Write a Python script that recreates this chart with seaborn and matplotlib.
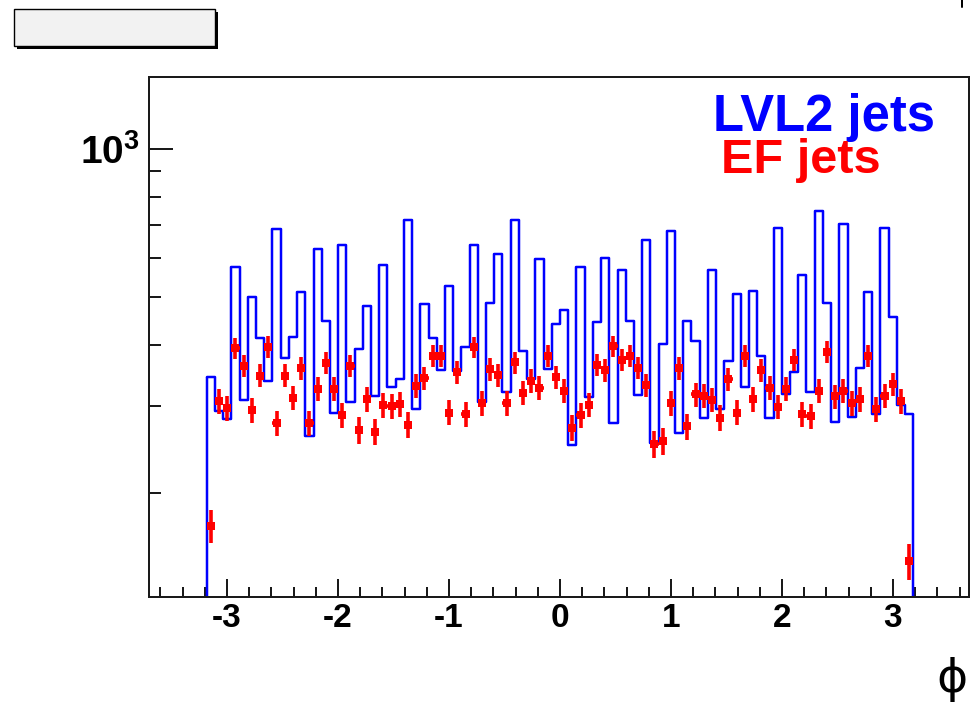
import numpy as np
import pandas as pd
import matplotlib
matplotlib.use("Agg")
import matplotlib.pyplot as plt
from matplotlib.patches import Rectangle
from matplotlib.lines import Line2D
from matplotlib.ticker import FixedLocator, FixedFormatter, LogLocator, MultipleLocator, NullFormatter
import seaborn as sns

# ---- data: jet counts per phi bin ----
phi_low, phi_high = -3.183, 3.183
n_bins = 86

lvl2_counts = [
    343, 293, 282, 575, 308, 499, 412, 338, 686, 376,
    415, 511, 261, 627, 447, 291, 637, 306, 392, 480,
    314, 580, 328, 340, 716, 296, 483, 413, 355, 526,
    354, 395, 637, 306, 486, 610, 321, 716, 389, 341,
    596, 357, 441, 471, 250, 575, 313, 444, 600, 277,
    566, 447, 316, 652, 252, 402, 680, 265, 447, 406,
    284, 566, 296, 370, 507, 328, 513, 380, 284, 692,
    318, 351, 553, 321, 747, 486, 278, 703, 285, 358,
    511, 289, 692, 456, 301, 289,
]

ef_counts = [
    171, 307, 297, 393, 362, 294, 346, 396, 277, 346,
    312, 358, 277, 325, 367, 325, 288, 362, 268, 310,
    266, 301, 300, 303, 275, 330, 342, 380, 380, 291,
    351, 289, 395, 304, 356, 347, 304, 368, 319, 338,
    327, 379, 344, 322, 271, 287, 302, 364, 355, 397,
    373, 380, 359, 331, 251, 255, 304, 358, 273, 317,
    315, 309, 284, 340, 291, 380, 310, 355, 327, 299,
    325, 373, 289, 286, 322, 387, 314, 322, 304, 310,
    380, 296, 315, 332, 307, 145,
]

x_ticks = [-3, -2, -1, 0, 1, 2, 3]
x_tick_labels = ["-3", "-2", "-1", "0", "1", "2", "3"]
y_ticks = [1000]
y_tick_labels = [r"$\mathbf{10^{3}}$"]
series_labels = ["LVL2 jets", "EF jets"]
x_title = "\u03d5"

# ---- layout ----
W, H = 972, 702
sns.set_style("white")
plt.rcParams["font.family"] = ["Liberation Sans", "DejaVu Sans"]
plt.rcParams["font.weight"] = "bold"
plt.rcParams["mathtext.fontset"] = "custom"
plt.rcParams["mathtext.rm"] = "Liberation Sans:bold"
plt.rcParams["mathtext.bf"] = "Liberation Sans:bold"

fig = plt.figure(figsize=(W / 100, H / 100), dpi=100)
fig.patch.set_facecolor("white")


def fx(px):
    return px / W


def fy(py):
    return 1 - py / H


PT = 0.72  # points per pixel at 100 dpi

ax_l, ax_r, ax_t, ax_b = 149, 969, 77, 597
ax = fig.add_axes([fx(ax_l), fy(ax_b), fx(ax_r - ax_l), (ax_b - ax_t) / H])
ax.set_facecolor("white")

edges = np.linspace(phi_low, phi_high, n_bins + 1)
centers = 0.5 * (edges[:-1] + edges[1:])
half_w = 0.5 * np.diff(edges)
df = pd.DataFrame({"phi": centers, "lvl2": lvl2_counts, "ef": ef_counts})

# LVL2: step-outline histogram
step_df = pd.DataFrame({"phi": edges, "count": lvl2_counts + [lvl2_counts[-1]]})
sns.lineplot(data=step_df, x="phi", y="count", drawstyle="steps-post",
             estimator=None, color="#0000ff", linewidth=2.0 * PT * 1.25, ax=ax, zorder=2)
ax.set_yscale("log")
y_lo, y_hi = 122.7, 1400
ax.vlines([edges[0], edges[-1]], y_lo * 0.5, [lvl2_counts[0], lvl2_counts[-1]],
          color="#0000ff", linewidth=2.0 * PT * 1.25, zorder=2)

# EF: points with Poisson errors
ef = np.asarray(ef_counts, dtype=float)
ax.errorbar(centers, ef, yerr=np.sqrt(ef), xerr=half_w, fmt="none",
            ecolor="#ff0000", elinewidth=3.6 * PT, capsize=0, zorder=3)
sns.scatterplot(data=df, x="phi", y="ef", marker="s", s=(8 * PT) ** 2, color="#ff0000",
                edgecolor="#ff0000", linewidth=0, ax=ax, zorder=4)

ax.set_xlim((ax_l - 560) / 111.0, (ax_r - 560) / 111.0)
ax.set_ylim(y_lo, y_hi)
ax.set_xlabel("")
ax.set_ylabel("")

# axes frame and ticks
for s in ax.spines.values():
    s.set_visible(True)
    s.set_color("#1a1a1a")
    s.set_linewidth(2 * PT)

ax.xaxis.set_major_locator(FixedLocator(x_ticks))
ax.xaxis.set_major_formatter(FixedFormatter(x_tick_labels))
ax.xaxis.set_minor_locator(MultipleLocator(0.2))
ax.yaxis.set_major_locator(FixedLocator(y_ticks))
ax.yaxis.set_major_formatter(FixedFormatter(y_tick_labels))
ax.yaxis.set_minor_locator(LogLocator(base=10, subs=np.arange(2, 10)))
ax.yaxis.set_minor_formatter(NullFormatter())

ax.tick_params(axis="x", which="major", direction="in", length=18 * PT, width=2 * PT,
               color="#1a1a1a", labelcolor="black", labelsize=24, pad=6 * PT,
               bottom=True, top=False)
ax.tick_params(axis="x", which="minor", direction="in", length=10 * PT, width=2 * PT,
               color="#1a1a1a", bottom=True, top=False)
ax.tick_params(axis="y", which="major", direction="in", length=24 * PT, width=2 * PT,
               color="#1a1a1a", labelcolor="black", labelsize=28, pad=9 * PT,
               left=True, right=False)
ax.tick_params(axis="y", which="minor", direction="in", length=12 * PT, width=2 * PT,
               color="#1a1a1a", left=True, right=False)
for lab in ax.get_xticklabels() + ax.get_yticklabels():
    lab.set_fontweight("bold")

# series labels
fig.text(fx(713), fy(131), series_labels[0], color="#0000ff", fontsize=36.5,
         fontweight="bold", ha="left", va="baseline")
fig.text(fx(721), fy(173), series_labels[1], color="#ff0000", fontsize=35,
         fontweight="bold", ha="left", va="baseline")

# x-axis title
fig.text(fx(968), fy(679), x_title, fontsize=34, fontweight="normal", ha="right",
         va="center", family=["DejaVu Sans"], color="black")

# empty title box with drop shadow
bx0, by0, bx1, by1 = 14, 9, 215, 46
fig.patches.append(Rectangle((fx(bx0 + 3), fy(by1 + 3)), fx(bx1 - bx0), (by1 - by0) / H,
                             transform=fig.transFigure, facecolor="black",
                             edgecolor="none", zorder=0))
fig.patches.append(Rectangle((fx(bx0), fy(by1)), fx(bx1 - bx0), (by1 - by0) / H,
                             transform=fig.transFigure, facecolor="#f2f2f2",
                             edgecolor="black", linewidth=1.0, zorder=1))

# edge of the stats pad peeking in at the top right
fig.add_artist(Line2D([fx(962), fx(962)], [fy(0), fy(7)], transform=fig.transFigure,
                      color="black", linewidth=2 * PT))

fig.savefig("out.png", dpi=100)
